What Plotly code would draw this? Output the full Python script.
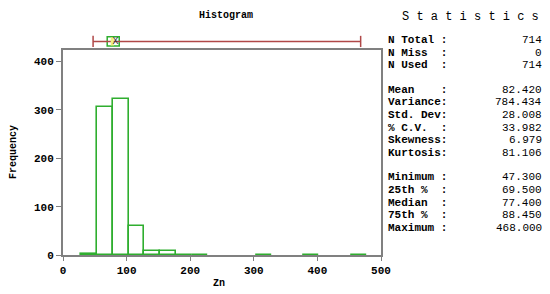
import plotly.graph_objects as go

# histogram bins (left edges, width 25) and counts
bin_left = [28, 53, 78, 103, 128, 153, 178, 203, 303, 378, 453]
counts = [3, 307, 322, 59, 9, 9, 1, 1, 1, 1, 1]
bin_width = 25

# summary statistics
stat_min = 47.3
stat_q1 = 69.5
stat_median = 77.4
stat_q3 = 88.45
stat_max = 468.0
stat_mean = 82.42

stat_labels = [
    ["N Total :", "N Miss  :", "N Used  :"],
    ["Mean    :", "Variance:", "Std. Dev:", "% C.V.  :", "Skewness:", "Kurtosis:"],
    ["Minimum :", "25th %  :", "Median  :", "75th %  :", "Maximum :"],
]
stat_values = [
    ["714", "0", "714"],
    ["82.420", "784.434", "28.008", "33.982", "6.979", "81.106"],
    ["47.300", "69.500", "77.400", "88.450", "468.000"],
]

GREEN = "#2fae2f"
RED = "#b04848"
GRAY = "#808080"
FONT = "Liberation Mono"

# the page body has an 8px margin, so the figure starts at (OFF, OFF)
OFF = 8
W, H = 550 - OFF, 294 - OFF
L, R, T, B = 63 - OFF, 169, 34 - OFF, 39
plot_h = H - T - B
plot_w = W - L - R


def py(ypx):
    # page pixel y -> paper y
    return (H - B - (ypx - OFF)) / plot_h


def px(xpx):
    # page pixel x -> paper x
    return (xpx - OFF - L) / plot_w


fig = go.Figure()

centers = [b + bin_width / 2 for b in bin_left]
fig.add_trace(go.Bar(
    x=centers, y=counts, width=bin_width,
    marker=dict(color="white", line=dict(color=GREEN, width=1.6)),
    showlegend=False, hoverinfo="skip",
))

# box plot above the histogram
fig.add_trace(go.Scatter(
    x=[stat_min, stat_max], y=[0, 0], yaxis="y2", mode="lines+markers",
    line=dict(color=RED, width=1.5),
    marker=dict(symbol="line-ns", size=8, line=dict(color=RED, width=1.5)),
    showlegend=False, hoverinfo="skip",
))
fig.add_trace(go.Box(
    q1=[stat_q1], median=[stat_median], q3=[stat_q3],
    lowerfence=[stat_q1], upperfence=[stat_q3], y=[0], orientation="h",
    yaxis="y2", width=1.0, line=dict(color=GREEN, width=1.5),
    fillcolor="white", showlegend=False, hoverinfo="skip",
))
fig.add_trace(go.Scatter(
    x=[stat_median, stat_median], y=[-0.45, 0.45], yaxis="y2", mode="lines",
    line=dict(color="#f0f080", width=3), showlegend=False, hoverinfo="skip",
))
fig.add_trace(go.Scatter(
    x=[stat_mean], y=[0], yaxis="y2", mode="text", text=["X"],
    textfont=dict(family=FONT, size=10, color="#333333"),
    showlegend=False, hoverinfo="skip",
))

fig.update_layout(
    width=W, height=H,
    margin=dict(l=L, r=R, t=T, b=B, autoexpand=False),
    paper_bgcolor="white", plot_bgcolor="white",
    xaxis=dict(range=[0, 500], tickvals=[0, 100, 200, 300, 400, 500],
               ticktext=["<b>%d</b>" % v for v in [0, 100, 200, 300, 400, 500]],
               showline=True, linecolor=GRAY, linewidth=2, mirror=True,
               ticks="outside", ticklen=4, tickcolor=GRAY, showgrid=False,
               zeroline=False, automargin=False,
               tickfont=dict(family=FONT, size=11, color="black")),
    yaxis=dict(domain=[0, py(50)], range=[0, 424],
               tickvals=[0, 100, 200, 300, 400],
               ticktext=["<b>%d</b>" % v for v in [0, 100, 200, 300, 400]],
               showline=True, linecolor=GRAY, linewidth=2, mirror=True,
               ticks="outside", ticklen=5, tickcolor=GRAY, showgrid=False,
               zeroline=False, automargin=False,
               tickfont=dict(family=FONT, size=11, color="black")),
    yaxis2=dict(domain=[py(50) + 0.005, 1], range=[-0.8, 0.8], anchor="x",
                visible=False),
    bargap=0,
)

# title and axis titles
fig.add_annotation(text="<b>Histogram</b>", xref="paper", yref="paper",
                   x=px(226), y=py(OFF), xanchor="center", yanchor="top",
                   showarrow=False, font=dict(family=FONT, size=10, color="black"))
fig.add_annotation(text="<b>Frequency</b>", xref="paper", yref="paper",
                   x=px(13), y=py(152), textangle=-90, xanchor="center",
                   yanchor="middle", showarrow=False,
                   font=dict(family=FONT, size=10, color="black"))
fig.add_annotation(text="<b>Zn</b>", xref="paper", yref="paper",
                   x=px(219), y=py(283), xanchor="center", yanchor="middle",
                   showarrow=False, font=dict(family=FONT, size=10, color="black"))

fig.add_annotation(text="S t a t i s t i c s", xref="paper", yref="paper",
                   x=px(470), y=py(17), xanchor="center", yanchor="middle",
                   showarrow=False, font=dict(family=FONT, size=12, color="black"))

ypos = 40
for labels, values in zip(stat_labels, stat_values):
    for lab, val in zip(labels, values):
        fig.add_annotation(text="<b>%s</b>" % lab, xref="paper", yref="paper",
                           x=px(386), y=py(ypos), xanchor="left", yanchor="middle",
                           showarrow=False,
                           font=dict(family=FONT, size=11, color="black"))
        fig.add_annotation(text=val, xref="paper", yref="paper",
                           x=px(544), y=py(ypos), xanchor="right", yanchor="middle",
                           showarrow=False,
                           font=dict(family=FONT, size=11, color="black"))
        ypos += 12.7
    ypos += 11.5

fig.write_html("out.html")
